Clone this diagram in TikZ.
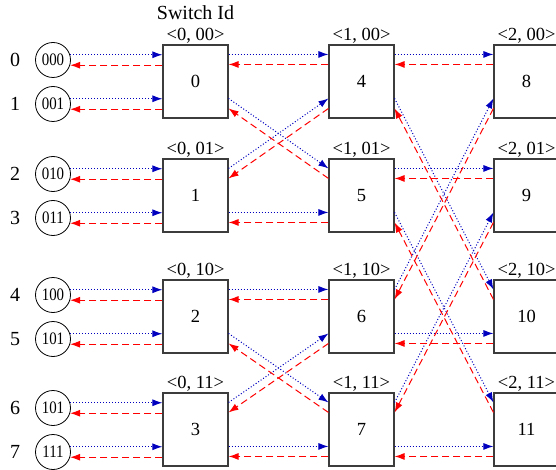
\documentclass[tikz,border=0pt]{standalone}
\usepackage{fontspec}
\setmainfont{Liberation Serif}
\usetikzlibrary{arrows.meta, positioning, calc}
\definecolor{fwdBlue}{RGB}{0,0,190}
\definecolor{bwdRed}{RGB}{255,0,0}
\definecolor{boxGray}{RGB}{60,60,60}

\begin{document}
\begin{tikzpicture}[x=1pt, y=-1pt,
    switchbox/.style={draw=boxGray, line width=1.1pt, fill=white, minimum width=65pt,
      minimum height=73pt, inner sep=0pt, font=\fontsize{18.5}{18.5}\selectfont},
    hostnode/.style={draw, circle, minimum size=35pt, inner sep=0pt, line width=0.8pt,
      font=\fontsize{17.5}{17.5}\selectfont},
    idlabel/.style={font=\fontsize{18.5}{19}\selectfont, inner sep=1pt},
    portnum/.style={font=\fontsize{20}{20}\selectfont},
    fwd/.style={color=fwdBlue, line width=1pt, dash pattern=on 1pt off 2pt,
      -{Latex[length=10pt,width=7pt]}},
    bwd/.style={color=bwdRed, line width=1pt, dash pattern=on 7pt off 4pt,
      -{Latex[length=10pt,width=7pt]}}]
    \useasboundingbox (0,0) rectangle (556,470);

    % switches, stage 0
    \node[switchbox] (s0) at (195.5,81.5) {0};
    \node[switchbox] (s1) at (195.5,195.5) {1};
    \node[switchbox] (s2) at (195.5,316.5) {2};
    \node[switchbox] (s3) at (195.5,429.5) {3};
    % stage 1
    \node[switchbox] (s4) at (361.5,81.5) {4};
    \node[switchbox] (s5) at (361.5,195.5) {5};
    \node[switchbox] (s6) at (361.5,316.5) {6};
    \node[switchbox] (s7) at (361.5,429.5) {7};
    % stage 2
    \node[switchbox] (s8) at (526.5,81.5) {8};
    \node[switchbox] (s9) at (526.5,195.5) {9};
    \node[switchbox] (s10) at (526.5,316.5) {10};
    \node[switchbox] (s11) at (526.5,429.5) {11};

    % switch ids
    \node[idlabel, above=0pt of s0] (l0) {<0, 00>};
    \node[idlabel, above=0pt of s1] (l1) {<0, 01>};
    \node[idlabel, above=0pt of s2] (l2) {<0, 10>};
    \node[idlabel, above=0pt of s3] (l3) {<0, 11>};
    \node[idlabel, above=0pt of s4] (l4) {<1, 00>};
    \node[idlabel, above=0pt of s5] (l5) {<1, 01>};
    \node[idlabel, above=0pt of s6] (l6) {<1, 10>};
    \node[idlabel, above=0pt of s7] (l7) {<1, 11>};
    \node[idlabel, above=0pt of s8] (l8) {<2, 00>};
    \node[idlabel, above=0pt of s9] (l9) {<2, 01>};
    \node[idlabel, above=0pt of s10] (l10) {<2, 10>};
    \node[idlabel, above=0pt of s11] (l11) {<2, 11>};
    \node[font=\fontsize{20}{20}\selectfont] (title) at (195.5,13) {Switch Id};

    % hosts
    \node[hostnode] (h0) at (53,60) {\scalebox{0.85}[1]{000}};
    \node[hostnode] (h1) at (53,104) {\scalebox{0.85}[1]{001}};
    \node[hostnode] (h2) at (53,174) {\scalebox{0.85}[1]{010}};
    \node[hostnode] (h3) at (53,218) {\scalebox{0.85}[1]{011}};
    \node[hostnode] (h4) at (53,295) {\scalebox{0.85}[1]{100}};
    \node[hostnode] (h5) at (53,339) {\scalebox{0.85}[1]{101}};
    \node[hostnode] (h6) at (53,408) {\scalebox{0.85}[1]{101}};
    \node[hostnode] (h7) at (53,452) {\scalebox{0.85}[1]{111}};
    \node[portnum] (n0) at (15,60) {0};
    \node[portnum] (n1) at (15,104) {1};
    \node[portnum] (n2) at (15,174) {2};
    \node[portnum] (n3) at (15,218) {3};
    \node[portnum] (n4) at (15,295) {4};
    \node[portnum] (n5) at (15,339) {5};
    \node[portnum] (n6) at (15,408) {6};
    \node[portnum] (n7) at (15,452) {7};

    % forward links (dotted blue)
    \begin{scope}[fwd]
      \foreach \k/\b in {0/0, 1/0, 2/1, 3/1, 4/2, 5/2, 6/3, 7/3}
        \draw (h\k.17) -- (h\k.17 -| s\b.west);
      \foreach \a/\pa/\b/\pb in {0/10/4/10, 0/54/5/10, 1/10/4/54, 1/54/5/54,
          2/10/6/10, 2/54/7/10, 3/10/6/54, 3/54/7/54,
          4/10/8/10, 4/54/10/10, 5/10/9/10, 5/54/11/10,
          6/10/8/54, 6/54/10/54, 7/10/9/54, 7/54/11/54}
        \draw ([yshift=-\pa]s\a.north east) -- ([yshift=-\pb]s\b.north west);
    \end{scope}

    % backward links (dashed red)
    \begin{scope}[bwd]
      \foreach \k/\b in {0/0, 1/0, 2/1, 3/1, 4/2, 5/2, 6/3, 7/3}
        \draw (h\k.-17 -| s\b.west) -- (h\k.-17);
      \foreach \a/\pa/\b/\pb in {0/10/4/10, 0/54/5/10, 1/10/4/54, 1/54/5/54,
          2/10/6/10, 2/54/7/10, 3/10/6/54, 3/54/7/54,
          4/10/8/10, 4/54/10/10, 5/10/9/10, 5/54/11/10,
          6/10/8/54, 6/54/10/54, 7/10/9/54, 7/54/11/54}
        \draw ([yshift={-(\pb+10)}]s\b.north west) -- ([yshift={-(\pa+10)}]s\a.north east);
    \end{scope}
  \end{tikzpicture}
\end{document}
